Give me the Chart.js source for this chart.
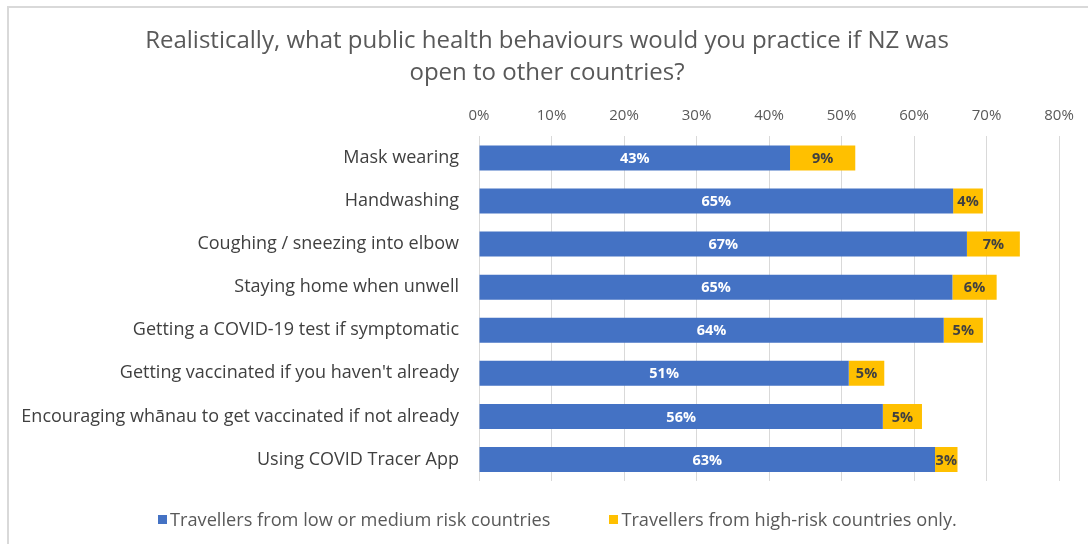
<!DOCTYPE html>
<html>
<head>
<meta charset="utf-8">
<script src="https://cdn.jsdelivr.net/npm/chart.js@4"></script>
<style>
    html, body { margin: 0; padding: 0; background: #fff; overflow: hidden; }
    #frame { position: absolute; left: 7px; top: 6px; width: 1200px; height: 700px; border: 2px solid #d9d9d9; }
    #wrap { position: absolute; left: 0; top: 0; width: 1088px; height: 544px; }
    #legend { position: absolute; left: 158px; top: 507px; display: flex; gap: 59px; font-family: 'Open Sans'; font-size: 18.2px; color: #595959; white-space: nowrap; }
    #legend .item { display: flex; align-items: center; }
    #legend .box { width: 9px; height: 9px; margin-right: 3px; }
</style>
</head>
<body>
<div id="frame"></div>
<div id="wrap"><canvas id="chartCanvas" width="1088" height="544"></canvas></div>
<div id="legend"></div>
<script>
// behaviours, top to bottom
const categories = [
    'Mask wearing',
    'Handwashing',
    'Coughing / sneezing into elbow',
    'Staying home when unwell',
    'Getting a COVID-19 test if symptomatic',
    "Getting vaccinated if you haven't already",
    'Encouraging whānau to get vaccinated if not already',
    'Using COVID Tracer App'
];
const lowMediumRisk = [42.9, 65.4, 67.3, 65.3, 64.1, 51.0, 55.7, 62.9];
const highRiskOnly = [9.0, 4.1, 7.3, 6.1, 5.4, 4.9, 5.4, 3.1];
const seriesNames = ['Travellers from low or medium risk countries', 'Travellers from high-risk countries only.'];
const seriesColors = ['#4472C4', '#FFC000'];
const titleLines = ['Realistically, what public health behaviours would you practice if NZ was', 'open to other countries?'];
const xMax = 80;
const xStep = 10;

const FONT = 'Open Sans';

// labels inside the segments
const barLabels = {
    id: 'barLabels',
    afterDatasetsDraw(chart) {
        const ctx = chart.ctx;
        ctx.save();
        ctx.font = `bold 14.5px ${FONT}`;
        ctx.textAlign = 'center';
        ctx.textBaseline = 'middle';
        chart.data.datasets.forEach((ds, i) => {
            const meta = chart.getDatasetMeta(i);
            ctx.fillStyle = i === 0 ? '#ffffff' : '#404040';
            meta.data.forEach((bar, j) => {
                const cx = (bar.x + bar.base) / 2;
                ctx.fillText(Math.round(ds.data[j]) + '%', cx, bar.y + 1);
            });
        });
        ctx.restore();
    }
};

// title is centred over the whole frame, not just the chart box
const titleShift = {
    id: 'titleShift',
    afterLayout(chart) {
        const t = chart.titleBlock;
        if (t) { t.left += 35; t.width = t.right - t.left; }
    }
};

Chart.defaults.font.family = FONT;
Chart.defaults.color = '#595959';

const ctx = document.getElementById('chartCanvas').getContext('2d');
const chart = new Chart(ctx, {
    type: 'bar',
    data: {
        labels: categories,
        datasets: seriesNames.map((name, i) => ({
            label: name,
            data: i === 0 ? lowMediumRisk : highRiskOnly,
            backgroundColor: seriesColors[i],
            barPercentage: 0.58, categoryPercentage: 1
        }))
    },
    options: {
        indexAxis: 'y',
        responsive: false,
        animation: false,
        layout: { padding: { top: 26, right: 29, bottom: 63, left: 0 } },
        plugins: {
            title: {
                display: true, text: titleLines, color: '#595959',
                font: { size: 24, weight: 'normal', lineHeight: 1.3 },
                padding: { top: 0, bottom: 6 }
            },
            legend: { display: false },
            tooltip: { enabled: false }
        },
        scales: {
            x: {
                position: 'top', stacked: true, min: 0, max: xMax,
                grid: { color: '#d9d9d9', drawTicks: false },
                border: { display: false },
                ticks: { stepSize: xStep, padding: 12, color: '#595959', font: { size: 15 }, callback: v => v + '%' }
            },
            y: {
                stacked: true,
                grid: { display: false },
                border: { display: false },
                ticks: { padding: 12, color: '#404040', font: { size: 18 } },
                afterFit(scale) { scale.width = 479; }
            }
        }
    },
    plugins: [barLabels, titleShift]
});

// legend below the plot, built from the datasets
document.getElementById('legend').innerHTML = chart.data.datasets.map(ds =>
    `<div class="item"><span class="box" style="background:${ds.backgroundColor}"></span><span>${ds.label}</span></div>`
).join('');
</script>
</body>
</html>
